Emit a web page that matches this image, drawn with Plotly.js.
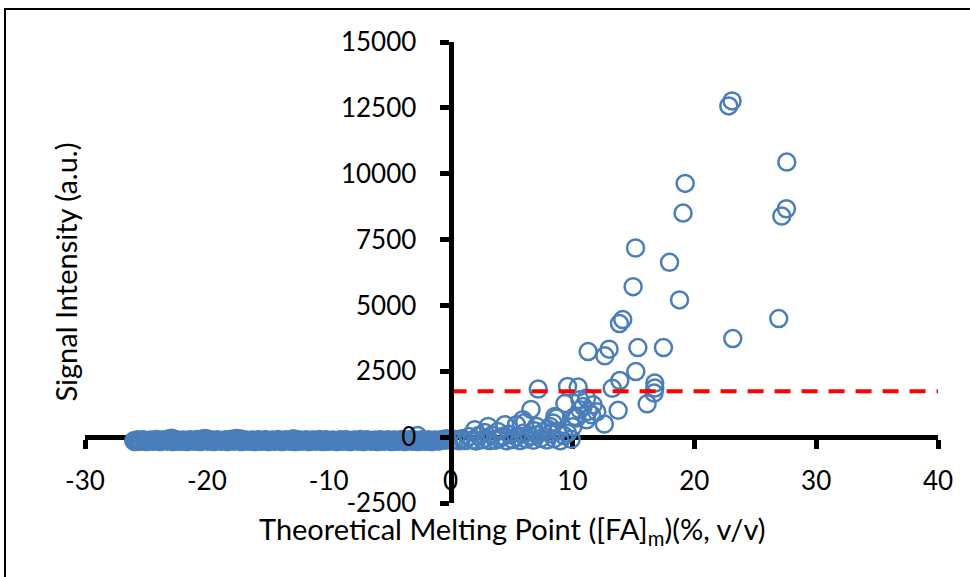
<!DOCTYPE html>
<html>
<head>
<meta charset="utf-8">
<script src="https://cdn.plot.ly/plotly-3.0.1.min.js"></script>
<style>html,body{margin:0;padding:0;background:#fff;}#chart{width:970px;height:577px;}</style>
</head>
<body>
<div id="chart"></div>
<script>
// Responsive points (upper part of the chart)
const highX = [22.83, 23.10, 27.59, 19.25, 27.56, 27.18, 19.08, 15.18, 17.97, 14.98,
  18.79, 14.13, 13.86, 26.93, 23.16, 11.29, 13.01, 12.66, 15.37, 17.47,
  15.20, 13.89, 13.27, 16.76, 16.76, 16.70, 16.13, 13.75, 12.62, 7.19,
  9.60, 10.47, 6.60, 9.38, 11.16, 11.70, 10.88, 11.29, 11.57, 11.16,
  10.34, 8.70, 8.42, 8.15, 6.10, 4.45, 1.99, 3.08, 5.93, 10.20,
  10.61, 12.00, 10.03, 10.61, 8.56, 5.41, 7.05, 3.88];
const highY = [12575, 12764, 10440, 9633, 8670, 8393, 8507, 7180, 6638, 5713,
  5209, 4462, 4310, 4500, 3742, 3249, 3340, 3086, 3400, 3400,
  2491, 2150, 1854, 2051, 1861, 1672, 1266, 1020, 497, 1823,
  1922, 1899, 1050, 1274, 1482, 1228, 1164, 974, 849, 660,
  724, 724, 535, 406, 557, 470, 281, 406, 660, 785,
  1039, 963, 394, 1418, 785, 470, 406, 216];

// Near-zero points, negative melting point side
const negX = [-26.0, -25.8, -25.6, -25.4, -25.1, -24.8, -24.5, -24.3, -24.0, -23.7,
  -23.4, -23.1, -22.9, -22.6, -22.3, -22.0, -21.8, -21.5, -21.2, -20.9,
  -20.7, -20.4, -20.1, -19.8, -19.6, -19.3, -19.0, -18.7, -18.4, -18.2,
  -17.9, -17.6, -17.3, -17.0, -16.8, -16.5, -16.2, -15.9, -15.6, -15.4,
  -15.1, -14.8, -14.5, -14.3, -14.0, -13.7, -13.4, -13.1, -12.9, -12.6,
  -12.3, -12.0, -11.7, -11.5, -11.2, -10.9, -10.6, -10.3, -10.1, -9.8,
  -9.5, -9.2, -8.9, -8.7, -8.4, -8.1, -7.8, -7.5, -7.3, -7.0,
  -6.7, -6.4, -6.1, -5.9, -5.6, -5.3, -5.0, -4.7, -4.5, -4.2,
  -3.9, -3.6, -3.3, -3.1, -2.8, -2.5, -2.2, -1.9, -1.7, -1.4,
  -1.1, -0.8, -0.5, -0.3, -2.7];
const negY = [-140, -150, -130, -145, -120, -135, -150, -125, -140, -110,
  -130, -60, -40, -120, -145, -130, -150, -115, -140, -125,
  -135, -70, -50, -140, -120, -150, -130, -145, -110, -135,
  -80, -55, -60, -140, -125, -150, -130, -120, -145, -135,
  -110, -150, -140, -125, -130, -145, -120, -135, -60, -140,
  -150, -125, -130, -145, -115, -140, -135, -120, -150, -130,
  -140, -125, -145, -110, -135, -150, -120, -140, -130, -145,
  -125, -135, -150, -115, -140, -130, -145, -120, -135, -150,
  -125, -140, -110, -145, -130, -120, -150, -135, -140, -125,
  -130, -110, -80, -60, 60];
const negX2 = [-25.9, -25.7, -25.5, -25.25, -24.95, -24.65, -24.4, -24.15, -23.85, -23.55,
  -23.25, -23.0, -22.75, -22.45, -22.15, -21.9, -21.65, -21.35, -21.05, -20.8,
  -20.55, -20.25, -19.95, -19.7, -19.45, -19.15, -18.85, -18.55, -18.3, -18.05,
  -17.75, -17.45, -17.15, -16.9, -16.65, -16.35, -16.05, -15.75, -15.5, -15.25,
  -14.95, -14.65, -14.4, -14.15, -13.85, -13.55, -13.25, -13.0, -12.75, -12.45,
  -12.15, -11.85, -11.6, -11.35, -11.05, -10.75, -10.45, -10.2, -9.95, -9.65,
  -9.35, -9.05, -8.8, -8.55, -8.25, -7.95, -7.65, -7.4, -7.15, -6.85,
  -6.55, -6.25, -6.0, -5.75, -5.45, -5.15, -4.85, -4.6, -4.35, -4.05,
  -3.75, -3.45, -3.2, -2.95, -2.65, -2.35, -2.05, -1.8, -1.55, -1.25,
  -0.95, -0.65, -0.4];
const negY2 = [-165, -100, -160, -95, -170, -105, -160, -90, -165, -110,
  -155, -100, -170, -95, -160, -105, -165, -100, -155, -90,
  -170, -110, -160, -95, -165, -100, -155, -105, -170, -90,
  -160, -100, -165, -95, -155, -110, -170, -100, -160, -95,
  -165, -105, -155, -90, -170, -100, -160, -110, -165, -95,
  -155, -100, -170, -105, -160, -90, -165, -100, -155, -110,
  -170, -95, -160, -100, -165, -105, -155, -90, -170, -100,
  -160, -110, -165, -95, -155, -100, -170, -105, -160, -90,
  -165, -100, -155, -110, -170, -95, -160, -100, -165, -105,
  -155, -90, -120];

// Near-zero points, positive melting point side
const posX = [0.1, 0.4, 0.7, 0.9, 1.2, 1.5, 1.8, 2.1, 2.3, 2.6,
  2.9, 3.2, 3.4, 3.7, 4.0, 4.3, 4.6, 4.8, 5.1, 5.4,
  5.7, 6.0, 6.2, 6.5, 6.8, 7.1, 7.4, 7.6, 7.9, 8.2,
  8.5, 8.8, 9.0, 9.3, 9.6, 9.9, 2.8, 4.9, 6.9, 8.0];
const posY = [-120, -90, -140, -60, -130, 20, -110, -150, 60, -100,
  -40, -130, 80, -120, -60, 30, -140, 120, -90, 10,
  -130, 160, -70, 40, -120, 90, -50, 200, -110, 130,
  -60, 220, -140, 60, 150, -80, 180, 90, 240, 300];

// Threshold line
const thresholdX = [0, 40];
const thresholdY = [1740, 1740];

// Axis ticks
const xTicks = [-30, -20, -10, 0, 10, 20, 30, 40];
const xTickText = ['-30', '-20', '-10', '0', '10', '20', '30', '40'];
const yTicks = [-2500, 0, 2500, 5000, 7500, 10000, 12500, 15000];
const yTickText = ['-2500', '0', '2500', '5000', '7500', '10000', '12500', '15000'];

const allX = negX.concat(negX2, posX, highX);
const allY = negY.concat(negY2, posY, highY);

const fontFamily = 'Lato, "Open Sans", sans-serif';

const traces = [
  {
    type: 'scatter', mode: 'markers', x: allX, y: allY,
    marker: {symbol: 'circle-open', size: 17, color: '#4a7ebb', line: {width: 2.5}},
    cliponaxis: false, hoverinfo: 'x+y', showlegend: false
  },
  {
    type: 'scatter', mode: 'lines', x: thresholdX, y: thresholdY,
    line: {color: '#ff0000', width: 4, dash: '16px,11px'},
    cliponaxis: false, showlegend: false
  }
];

const axisCommon = {
  showgrid: false, zeroline: false, showline: true, linecolor: '#000', linewidth: 5,
  ticks: 'outside', ticklen: 9, tickwidth: 5, tickcolor: '#000',
  tickfont: {family: fontFamily, size: 26, color: '#000'},
  anchor: 'free', tickmode: 'array'
};

const layout = {
  width: 970, height: 577,
  margin: {l: 85, r: 32, t: 42, b: 74, pad: 0},
  paper_bgcolor: '#fff', plot_bgcolor: '#fff',
  showlegend: false,
  xaxis: Object.assign({}, axisCommon, {
    range: [-30, 40], tickvals: xTicks, ticktext: xTickText,
    position: 2500 / 17500, layer: 'below traces', ticklabelstandoff: 10
  }),
  yaxis: Object.assign({}, axisCommon, {
    range: [-2500, 15000], tickvals: yTicks, ticktext: yTickText,
    position: 30 / 70, layer: 'above traces', ticklabelstandoff: 18
  }),
  annotations: [
    {text: 'Theoretical Melting Point ([FA]<sub>m</sub>)(%, v/v)', xref: 'paper', yref: 'paper',
     x: 0.5, y: -0.0586, xanchor: 'center', yanchor: 'middle', showarrow: false,
     font: {family: fontFamily, size: 29, color: '#000'}},
    {text: 'Signal Intensity (a.u.)', xref: 'paper', yref: 'paper',
     x: -0.0234, y: 0.5, xanchor: 'center', yanchor: 'middle', textangle: -90, showarrow: false,
     font: {family: fontFamily, size: 29, color: '#000'}}
  ],
  shapes: [
    {type: 'rect', xref: 'paper', yref: 'paper', x0: -0.0938, x1: 1.2, y0: -0.3, y1: 1.0716,
     line: {color: '#000', width: 2}, fillcolor: 'rgba(0,0,0,0)', layer: 'below'}
  ]
};

Plotly.newPlot('chart', traces, layout, {displayModeBar: false, staticPlot: true});
</script>
</body>
</html>
